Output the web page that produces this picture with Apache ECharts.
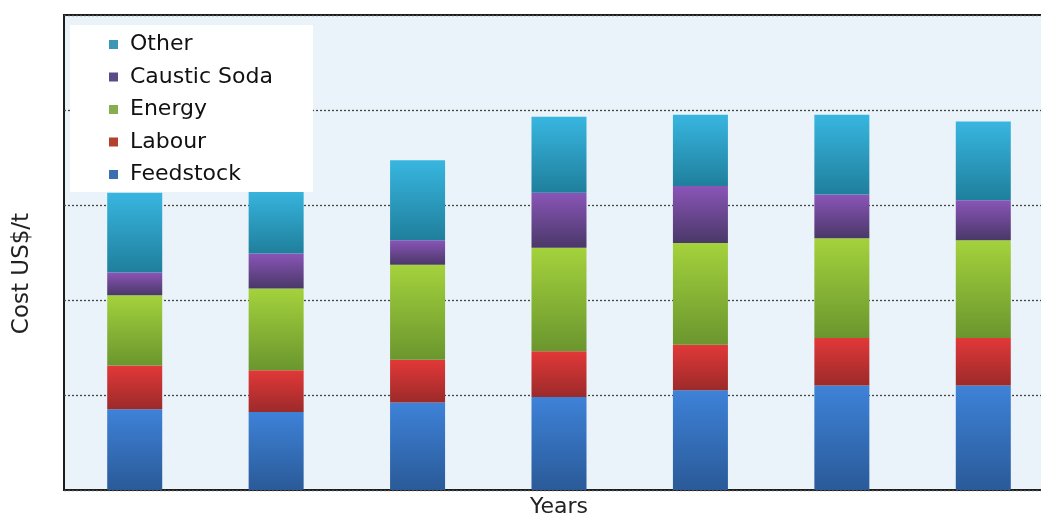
<!DOCTYPE html>
<html>
<head>
<meta charset="utf-8">
<script src="https://cdn.jsdelivr.net/npm/echarts@6/dist/echarts.min.js"></script>
<style>
html,body{margin:0;padding:0;background:#ffffff;overflow:hidden;}
#chart{width:1056px;height:523px;}
</style>
</head>
<body>
<div id="chart"></div>
<script>
// Data (cost components per year, US$/t; gridline step = 100)
const categories = ['Year 1', 'Year 2', 'Year 3', 'Year 4', 'Year 5', 'Year 6', 'Year 7'];
const feedstock   = [85, 82, 92, 98, 105, 110, 110];
const labour      = [46, 44, 45, 48, 48, 50, 50];
const energy      = [74, 86, 100, 109, 107, 105, 103];
const causticSoda = [24, 37, 26, 58, 60, 46, 42];
const other       = [84, 68, 84, 80, 75, 84, 83];
const legendOrder = ['Other', 'Caustic Soda', 'Energy', 'Labour', 'Feedstock'];

const FONT = 'DejaVu Sans';
function grad(top, bottom) {
  return new echarts.graphic.LinearGradient(0, 0, 0, 1, [
    { offset: 0, color: top }, { offset: 1, color: bottom }
  ]);
}
const seriesDefs = [
  { name: 'Feedstock',    data: feedstock,   top: '#3e82d8', bottom: '#2a5a98', legend: '#3a70b0' },
  { name: 'Labour',       data: labour,      top: '#e23838', bottom: '#9c2a2a', legend: '#b4402e' },
  { name: 'Energy',       data: energy,      top: '#a4d23c', bottom: '#6a962e', legend: '#86ae4e' },
  { name: 'Caustic Soda', data: causticSoda, top: '#8a55b8', bottom: '#4a3868', legend: '#5a4a86' },
  { name: 'Other',        data: other,       top: '#38b6e0', bottom: '#1f7f9c', legend: '#3a98b4' }
];

const chart = echarts.init(document.getElementById('chart'), null, { renderer: 'canvas' });
chart.setOption({
  animation: false,
  backgroundColor: '#ffffff',
  grid: {
    left: 64, top: 15, width: 990, bottom: 30,
    show: true, backgroundColor: '#eaf2fa',
    borderColor: '#1c1c1c', borderWidth: 2
  },
  legend: {
    orient: 'vertical',
    left: 70, top: 25,
    backgroundColor: '#ffffff',
    padding: [8.5, 40, 6.5, 39],
    itemWidth: 23, itemHeight: 9,
    itemGap: 10.5,
    icon: 'path://M0,0h10v10h-10z',
    symbolKeepAspect: true,
    textStyle: { fontFamily: FONT, fontSize: 22, color: '#111111', lineHeight: 22 },
    data: legendOrder.map(n => {
      const d = seriesDefs.find(s => s.name === n);
      return { name: n, itemStyle: { color: d.legend } };
    })
  },
  xAxis: {
    type: 'category',
    data: categories,
    name: 'Years',
    nameLocation: 'middle',
    nameGap: 6,
    nameTextStyle: { fontFamily: FONT, fontSize: 22, color: '#222222', verticalAlign: 'top' },
    axisLine: { show: false },
    axisTick: { show: false },
    axisLabel: { show: false },
    splitLine: { show: false }
  },
  yAxis: {
    type: 'value',
    min: 0, max: 500, interval: 100,
    name: 'Cost US$/t',
    nameLocation: 'middle',
    nameGap: 30,
    nameTextStyle: { fontFamily: FONT, fontSize: 23, color: '#222222', padding: [0, 42, 0, 0] },
    axisLine: { show: false },
    axisTick: { show: false },
    axisLabel: { show: false },
    splitLine: { show: true, lineStyle: { type: [2, 2], color: '#444444', width: 1.3 } }
  },
  series: seriesDefs.map(d => ({
    name: d.name,
    type: 'bar',
    stack: 'cost',
    barWidth: 55,
    data: d.data,
    itemStyle: { color: grad(d.top, d.bottom) }
  }))
});
</script>
</body>
</html>
